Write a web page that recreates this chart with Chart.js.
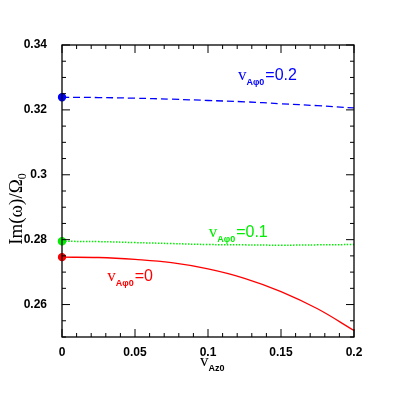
<!DOCTYPE html>
<html>
<head>
<meta charset="utf-8">
<script src="https://cdn.jsdelivr.net/npm/chart.js@4/dist/chart.umd.min.js"></script>
<style>
  html, body { margin: 0; padding: 0; background: #fff; }
  #wrap { width: 399px; height: 399px; }
</style>
</head>
<body>
<div id="wrap"><canvas id="growthChart" width="399" height="399"></canvas></div>
<script>
const vAz0 = [0, 0.025, 0.05, 0.075, 0.1, 0.125, 0.15, 0.175, 0.2];
const growthPhi02 = [0.3239, 0.3238, 0.3236, 0.3233, 0.3229, 0.3225, 0.3219, 0.3213, 0.3206];
const growthPhi01 = [0.2795, 0.2794, 0.2791, 0.2788, 0.2785, 0.2784, 0.2783, 0.2784, 0.2785];
const growthPhi00 = [0.2746, 0.2745, 0.2739, 0.2729, 0.2710, 0.2681, 0.2640, 0.2587, 0.2520];
const xTickLabels = [0, 0.05, 0.1, 0.15, 0.2];
const yTickLabels = [0.26, 0.28, 0.3, 0.32, 0.34];

const toPoints = ys => vAz0.map((x, i) => ({ x, y: ys[i] }));
const firstDot = ctx => ctx.dataIndex === 0 ? 3.5 : 0;
const near = (v, list) => list.some(t => Math.abs(t - v) < 1e-6);

// box, inward ticks, and the text that Chart.js can't do (subscripts)
const framePlugin = {
  id: "frame",
  afterDraw(chart) {
    const { ctx, chartArea: a, scales: { x, y } } = chart;
    ctx.save();
    ctx.strokeStyle = "#000";
    ctx.lineWidth = 1.3;
    ctx.strokeRect(a.left, a.top, a.right - a.left, a.bottom - a.top);
    ctx.lineWidth = 1;
    ctx.beginPath();
    for (let i = 0; i <= 20; i++) {
      const v = i * 0.01;
      const px = x.getPixelForValue(v);
      const len = i % 5 === 0 ? 8 : 4;
      ctx.moveTo(px, a.bottom); ctx.lineTo(px, a.bottom - len);
      ctx.moveTo(px, a.top); ctx.lineTo(px, a.top + len);
    }
    for (let i = 0; i <= 18; i++) {
      const v = 0.25 + i * 0.005;
      const py = y.getPixelForValue(v);
      const len = near(v, yTickLabels) ? 8 : 4;
      ctx.moveTo(a.left, py); ctx.lineTo(a.left + len, py);
      ctx.moveTo(a.right, py); ctx.lineTo(a.right - len, py);
    }
    ctx.stroke();

    const label = (px, py, color, subText, rest) => {
      ctx.fillStyle = color;
      ctx.textBaseline = "alphabetic";
      ctx.textAlign = "left";
      ctx.font = "17px 'Liberation Serif'";
      ctx.fillText("v", px, py);
      let cx = px + ctx.measureText("v").width;
      ctx.font = "bold 9px 'Liberation Sans'";
      ctx.fillText(subText, cx, py + 5);
      cx += ctx.measureText(subText).width + 1;
      ctx.font = "16px 'Liberation Sans'";
      ctx.fillText(rest, cx, py);
    };
    label(x.getPixelForValue(0.1205), y.getPixelForValue(0.32935), "#0000ff", "A\u03c60", "=0.2");
    label(x.getPixelForValue(0.1005), y.getPixelForValue(0.28072), "#00ee00", "A\u03c60", "=0.1");
    label(x.getPixelForValue(0.031), y.getPixelForValue(0.2672), "#ff0000", "A\u03c60", "=0");

    // x title
    label(x.getPixelForValue(0.0945), 366, "#000", "Az0", "");

    // y title
    ctx.save();
    ctx.translate(22, 208);
    ctx.rotate(-Math.PI / 2);
    ctx.fillStyle = "#000";
    ctx.font = "19px 'Liberation Serif'";
    ctx.textAlign = "center";
    const main = "Im(\u03c9)/\u03a9";
    const w = ctx.measureText(main).width;
    ctx.fillText(main, -4, 0);
    ctx.font = "12px 'Liberation Serif'";
    ctx.textAlign = "left";
    ctx.fillText("0", -4 + w / 2, 4);
    ctx.restore();

    ctx.restore();
  }
};

new Chart(document.getElementById("growthChart"), {
  type: "line",
  data: {
    datasets: [
      {
        label: "vAphi0=0.2",
        data: toPoints(growthPhi02),
        borderColor: "#0000ff",
        backgroundColor: "#0000ff",
        borderWidth: 1.3,
        borderDash: [7, 4],
        pointRadius: firstDot,
        clip: false,
        tension: 0.4
      },
      {
        label: "vAphi0=0.1",
        data: toPoints(growthPhi01),
        borderColor: "#00ee00",
        backgroundColor: "#00ee00",
        borderWidth: 1.5,
        borderDash: [1.5, 1.5],
        pointRadius: firstDot,
        clip: false,
        tension: 0.4
      },
      {
        label: "vAphi0=0",
        data: toPoints(growthPhi00),
        borderColor: "#ff0000",
        backgroundColor: "#ff0000",
        borderWidth: 1.3,
        pointRadius: firstDot,
        clip: false,
        tension: 0.4
      }
    ]
  },
  options: {
    responsive: false,
    animation: false,
    layout: { padding: { left: 0, right: 45, top: 45, bottom: 0 } },
    plugins: { legend: { display: false }, tooltip: { enabled: false } },
    scales: {
      x: {
        type: "linear",
        min: 0,
        max: 0.2,
        grid: { display: false },
        border: { display: false },
        afterFit: s => { s.height = 62; },
        afterBuildTicks: s => { s.ticks = xTickLabels.map(value => ({ value })); },
        ticks: {
          padding: 0,
          maxRotation: 0,
          color: "#000",
          font: { family: "'Liberation Sans'", size: 12, weight: "bold" },
          callback: v => String(Number(v.toFixed(2)))
        }
      },
      y: {
        min: 0.25,
        max: 0.34,
        grid: { display: false },
        border: { display: false },
        afterFit: s => { s.width = 62; },
        afterBuildTicks: s => { s.ticks = yTickLabels.map(value => ({ value })); },
        ticks: {
          padding: 7,
          color: "#000",
          font: { family: "'Liberation Sans'", size: 12, weight: "bold" },
          callback: v => String(Number(v.toFixed(2)))
        }
      }
    }
  },
  plugins: [framePlugin]
});
</script>
</body>
</html>
